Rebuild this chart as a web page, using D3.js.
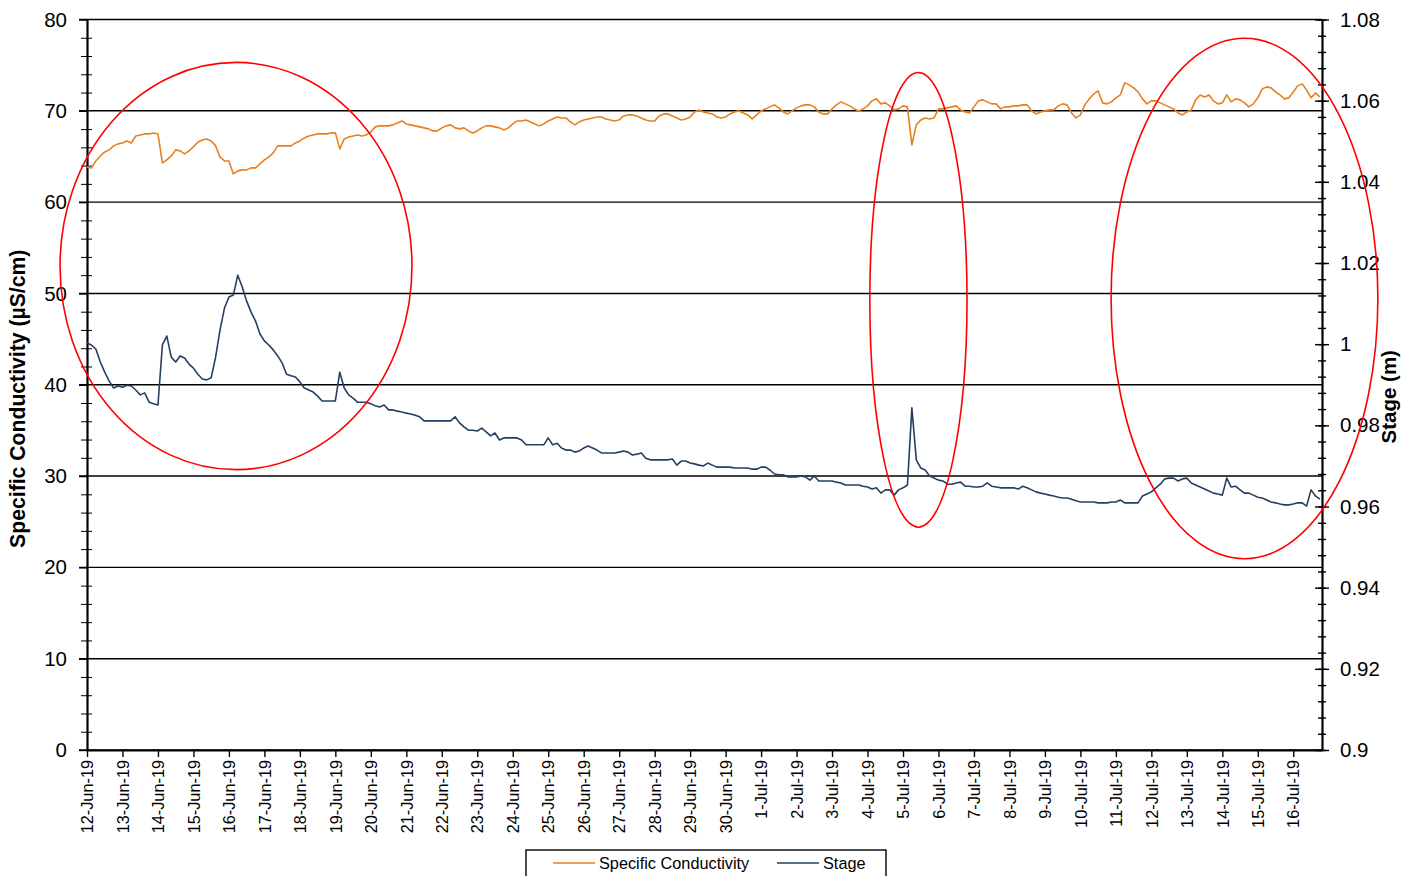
<!DOCTYPE html>
<html>
<head>
<meta charset="utf-8">
<script src="https://cdn.jsdelivr.net/npm/d3@7"></script>
<style>
  body { margin: 0; background: #fff; }
  svg { display: block; font-family: "Liberation Sans", Arial, sans-serif; }
</style>
</head>
<body>
<svg id="chart"></svg>
<script>
// logger readings, one every 3 hours from 12-Jun-19 00:00
const startTime = Date.UTC(2019, 5, 12);
const stepHours = 3;

// specific conductivity (uS/cm), one row per day
const conductivity = [
  63.86, 63.75, 64.51, 65.06, 65.50, 65.72, 66.16, 66.38,
  66.48, 66.70, 66.48, 67.25, 67.36, 67.47, 67.47, 67.58,
  67.47, 64.29, 64.62, 65.06, 65.72, 65.61, 65.28, 65.61,
  66.05, 66.59, 66.81, 66.92, 66.70, 66.16, 64.95, 64.51,
  64.51, 63.09, 63.42, 63.53, 63.53, 63.75, 63.75, 64.18,
  64.62, 64.95, 65.39, 66.16, 66.16, 66.16, 66.16, 66.48,
  66.70, 67.03, 67.25, 67.36, 67.47, 67.47, 67.47, 67.58,
  67.58, 65.83, 66.92, 67.14, 67.25, 67.36, 67.25, 67.36,
  67.69, 68.24, 68.35, 68.35, 68.35, 68.46, 68.67, 68.89,
  68.56, 68.46, 68.35, 68.24, 68.13, 68.02, 67.80, 67.80,
  68.13, 68.35, 68.46, 68.13, 68.02, 68.13, 67.80, 67.58,
  67.80, 68.13, 68.35, 68.35, 68.24, 68.13, 67.91, 68.13,
  68.56, 68.89, 68.89, 69.00, 68.78, 68.56, 68.35, 68.56,
  68.89, 69.11, 69.33, 69.22, 69.22, 68.78, 68.46, 68.78,
  69.00, 69.11, 69.22, 69.33, 69.33, 69.11, 69.00, 68.89,
  69.00, 69.44, 69.55, 69.55, 69.44, 69.22, 69.00, 68.89,
  68.89, 69.44, 69.66, 69.66, 69.44, 69.22, 69.00, 69.11,
  69.33, 69.88, 70.10, 69.88, 69.77, 69.66, 69.33, 69.22,
  69.33, 69.66, 69.88, 69.99, 69.77, 69.55, 69.11, 69.55,
  69.99, 70.21, 70.43, 70.65, 70.32, 69.88, 69.66, 69.99,
  70.32, 70.54, 70.65, 70.65, 70.43, 69.88, 69.66, 69.66,
  70.21, 70.65, 70.98, 70.76, 70.54, 70.21, 69.99, 70.21,
  70.54, 71.09, 71.31, 70.76, 70.87, 70.54, 70.10, 70.21,
  70.54, 70.43, 66.27, 68.46, 69.00, 69.22, 69.11, 69.22,
  70.21, 70.21, 70.32, 70.43, 70.54, 70.10, 69.88, 69.77,
  70.43, 71.09, 71.20, 70.98, 70.76, 70.76, 70.21, 70.43,
  70.43, 70.54, 70.54, 70.65, 70.65, 69.99, 69.66, 69.88,
  69.99, 70.10, 70.10, 70.54, 70.76, 70.65, 69.77, 69.22,
  69.55, 70.65, 71.31, 71.85, 72.18, 70.87, 70.76, 70.98,
  71.42, 71.74, 73.06, 72.84, 72.51, 72.07, 71.31, 70.76,
  71.09, 71.09, 70.87, 70.65, 70.43, 70.21, 69.77, 69.55,
  69.88, 70.10, 71.20, 71.74, 71.52, 71.74, 71.09, 70.76,
  70.87, 71.74, 70.98, 71.31, 71.20, 70.87, 70.43, 70.76,
  71.42, 72.40, 72.62, 72.51, 72.07, 71.74, 71.31, 71.42,
  72.07, 72.73, 72.95, 72.29, 71.42, 71.96, 71.52
];

// stage (m), same timestamps
const stage = [
  1.0003, 0.9998, 0.9988, 0.9956, 0.9931, 0.9909, 0.9892, 0.9897,
  0.9894, 0.9899, 0.9897, 0.9887, 0.9875, 0.9880, 0.9857, 0.9853,
  0.9850, 0.9998, 1.0020, 0.9968, 0.9956, 0.9971, 0.9966, 0.9951,
  0.9941, 0.9926, 0.9914, 0.9912, 0.9917, 0.9968, 1.0035, 1.0089,
  1.0116, 1.0121, 1.0170, 1.0141, 1.0106, 1.0079, 1.0057, 1.0025,
  1.0008, 0.9998, 0.9986, 0.9971, 0.9954, 0.9926, 0.9922, 0.9919,
  0.9907, 0.9892, 0.9887, 0.9882, 0.9872, 0.9860, 0.9860, 0.9860,
  0.9860, 0.9931, 0.9892, 0.9875, 0.9867, 0.9857, 0.9857, 0.9857,
  0.9853, 0.9848, 0.9845, 0.9850, 0.9838, 0.9838, 0.9835, 0.9833,
  0.9830, 0.9828, 0.9825, 0.9821, 0.9811, 0.9811, 0.9811, 0.9811,
  0.9811, 0.9811, 0.9811, 0.9821, 0.9806, 0.9796, 0.9788, 0.9788,
  0.9786, 0.9793, 0.9784, 0.9774, 0.9781, 0.9764, 0.9769, 0.9769,
  0.9769, 0.9769, 0.9764, 0.9752, 0.9752, 0.9752, 0.9752, 0.9752,
  0.9769, 0.9752, 0.9756, 0.9744, 0.9739, 0.9739, 0.9734, 0.9737,
  0.9744, 0.9749, 0.9744, 0.9739, 0.9732, 0.9732, 0.9732, 0.9732,
  0.9734, 0.9737, 0.9734, 0.9727, 0.9729, 0.9732, 0.9719, 0.9715,
  0.9715, 0.9715, 0.9715, 0.9715, 0.9717, 0.9702, 0.9712, 0.9712,
  0.9707, 0.9705, 0.9702, 0.9700, 0.9707, 0.9702, 0.9697, 0.9697,
  0.9697, 0.9697, 0.9695, 0.9695, 0.9695, 0.9695, 0.9692, 0.9692,
  0.9697, 0.9697, 0.9690, 0.9680, 0.9678, 0.9678, 0.9673, 0.9673,
  0.9673, 0.9675, 0.9673, 0.9665, 0.9675, 0.9663, 0.9663, 0.9663,
  0.9663, 0.9660, 0.9658, 0.9653, 0.9653, 0.9653, 0.9653, 0.9650,
  0.9648, 0.9643, 0.9646, 0.9633, 0.9641, 0.9641, 0.9628, 0.9641,
  0.9646, 0.9653, 0.9843, 0.9715, 0.9695, 0.9690, 0.9675, 0.9670,
  0.9665, 0.9663, 0.9655, 0.9655, 0.9658, 0.9660, 0.9650, 0.9650,
  0.9648, 0.9648, 0.9650, 0.9658, 0.9650, 0.9648, 0.9646, 0.9646,
  0.9646, 0.9646, 0.9643, 0.9650, 0.9646, 0.9641, 0.9636, 0.9633,
  0.9631, 0.9628, 0.9626, 0.9623, 0.9621, 0.9621, 0.9618, 0.9614,
  0.9611, 0.9611, 0.9611, 0.9611, 0.9609, 0.9609, 0.9609, 0.9611,
  0.9611, 0.9616, 0.9609, 0.9609, 0.9609, 0.9609, 0.9626, 0.9631,
  0.9636, 0.9646, 0.9655, 0.9668, 0.9670, 0.9670, 0.9663, 0.9668,
  0.9670, 0.9658, 0.9653, 0.9648, 0.9643, 0.9638, 0.9633, 0.9631,
  0.9628, 0.9670, 0.9648, 0.9650, 0.9641, 0.9633, 0.9633, 0.9628,
  0.9623, 0.9621, 0.9616, 0.9611, 0.9609, 0.9606, 0.9604, 0.9604,
  0.9606, 0.9609, 0.9609, 0.9601, 0.9641, 0.9626, 0.9618
];

// axis ticks
const condTicks = [0, 10, 20, 30, 40, 50, 60, 70, 80];
const stageTicks = [0.9, 0.92, 0.94, 0.96, 0.98, 1, 1.02, 1.04, 1.06, 1.08];

// hand drawn red rings: centre (time, uS/cm) and half widths (days, uS/cm)
const ringCentreTime = [Date.UTC(2019, 5, 16, 4, 48), Date.UTC(2019, 6, 5, 10, 26), Date.UTC(2019, 6, 14, 15, 0)];
const ringCentreValue = [53.0, 49.3, 49.45];
const ringHalfDays = [4.96, 1.37, 3.76];
const ringHalfValue = [22.3, 24.9, 28.5];

const seriesNames = ["Specific Conductivity", "Stage"];
const seriesColors = ["#E8801E", "#243F63"];

const width = 1411, height = 876;
const margin = { top: 19.5, right: 89, bottom: 126, left: 87 };
const dayMs = 864e5;

const svg = d3.select("#chart").attr("width", width).attr("height", height);
svg.append("rect").attr("width", width).attr("height", height).attr("fill", "#fff");

const x = d3.scaleUtc()
    .domain([startTime, startTime + 34.81 * dayMs])
    .range([margin.left, width - margin.right]);
const yLeft = d3.scaleLinear().domain([0, 80]).range([height - margin.bottom, margin.top]);
const yRight = d3.scaleLinear().domain([0.9, 1.08]).range([height - margin.bottom, margin.top]);

const x0 = x.range()[0], x1 = x.range()[1];
const timeAt = i => new Date(startTime + i * stepHours * 3600e3);

// horizontal gridlines on the conductivity scale
svg.append("g").selectAll("line")
    .data(condTicks)
    .enter().append("line")
    .attr("x1", x0 - 8).attr("x2", x1)
    .attr("y1", d => yLeft(d)).attr("y2", d => yLeft(d))
    .attr("stroke", "#000").attr("stroke-width", 1.4);

// left axis
const minorLeft = d3.range(0, 81, 2).filter(v => v % 10 !== 0);
svg.append("g").attr("transform", `translate(${x0},0)`)
    .call(d3.axisLeft(yLeft).tickValues(minorLeft).tickSize(6).tickSizeOuter(0).tickFormat(""))
    .call(g => g.select(".domain").remove());
svg.append("g").attr("transform", `translate(${x0},0)`)
    .call(d3.axisRight(yLeft).tickValues(minorLeft).tickSize(5).tickSizeOuter(0).tickFormat(""))
    .call(g => g.select(".domain").remove());
svg.append("g").attr("transform", `translate(${x0},0)`)
    .call(d3.axisLeft(yLeft).tickValues(condTicks).tickSize(8).tickSizeOuter(0).tickPadding(12))
    .call(g => g.select(".domain").attr("stroke-width", 2.2))
    .call(g => g.selectAll(".tick line").attr("stroke-width", 1.4))
    .call(g => g.selectAll("text").attr("font-size", 20.5).attr("font-family", "Liberation Sans, Arial, sans-serif").attr("fill", "#000"));

// right axis
const minorRight = d3.range(0, 46).map(i => 0.9 + i * 0.004);
[d3.axisRight, d3.axisLeft].forEach(ax => {
    svg.append("g").attr("transform", `translate(${x1},0)`)
        .call(ax(yRight).tickValues(minorRight).tickSize(4).tickSizeOuter(0).tickFormat(""))
        .call(g => g.select(".domain").remove())
        .call(g => g.selectAll(".tick line").attr("stroke-width", 1.4));
});
svg.append("g").attr("transform", `translate(${x1},0)`)
    .call(d3.axisLeft(yRight).tickValues(stageTicks).tickSize(7).tickSizeOuter(0).tickFormat(""))
    .call(g => g.select(".domain").remove())
    .call(g => g.selectAll(".tick line").attr("stroke-width", 1.4));
svg.append("g").attr("transform", `translate(${x1},0)`)
    .call(d3.axisRight(yRight).tickValues(stageTicks).tickSize(7).tickSizeOuter(0).tickPadding(11).tickFormat(d => String(d)))
    .call(g => g.select(".domain").attr("stroke-width", 2.2))
    .call(g => g.selectAll(".tick line").attr("stroke-width", 1.4))
    .call(g => g.selectAll("text").attr("font-size", 20.5).attr("font-family", "Liberation Sans, Arial, sans-serif").attr("fill", "#000"));

// bottom axis with one tick per day
svg.append("g").attr("transform", `translate(0,${yLeft(0)})`)
    .call(d3.axisBottom(x).ticks(d3.utcDay.every(1)).tickFormat(d3.utcFormat("%-d-%b-%y")).tickSize(7).tickSizeOuter(0))
    .call(g => g.select(".domain").attr("stroke-width", 2.2))
    .call(g => g.selectAll(".tick line").attr("stroke-width", 1.4))
    .call(g => g.selectAll("text")
        .attr("transform", "rotate(-90)")
        .attr("text-anchor", "end")
        .attr("x", -10).attr("y", 0).attr("dy", "0.35em")
        .attr("font-size", 16.3)
        .attr("font-family", "Liberation Sans, Arial, sans-serif")
        .attr("fill", "#000"));

// data lines
const condLine = d3.line().x((d, i) => x(timeAt(i))).y(d => yLeft(d));
const stageLine = d3.line().x((d, i) => x(timeAt(i))).y(d => yRight(d));

svg.append("path").datum(conductivity)
    .attr("d", condLine)
    .attr("fill", "none").attr("stroke", seriesColors[0]).attr("stroke-width", 1.6)
    .attr("stroke-linejoin", "round");
svg.append("path").datum(stage)
    .attr("d", stageLine)
    .attr("fill", "none").attr("stroke", seriesColors[1]).attr("stroke-width", 1.6)
    .attr("stroke-linejoin", "round");

// red rings
svg.append("g").selectAll("ellipse")
    .data(ringCentreTime)
    .enter().append("ellipse")
    .attr("cx", d => x(d))
    .attr("cy", (d, i) => yLeft(ringCentreValue[i]))
    .attr("rx", (d, i) => x(d + ringHalfDays[i] * dayMs) - x(d))
    .attr("ry", (d, i) => yLeft(ringCentreValue[i] - ringHalfValue[i]) - yLeft(ringCentreValue[i]))
    .attr("fill", "none").attr("stroke", "#FF0000").attr("stroke-width", 1.6);

// axis titles
svg.append("text")
    .attr("transform", `translate(25,${(yLeft(0) + yLeft(80)) / 2 + 14}) rotate(-90)`)
    .attr("text-anchor", "middle")
    .attr("font-size", 21.2).attr("font-weight", "bold")
    .text("Specific Conductivity  (µS/cm)");
svg.append("text")
    .attr("transform", `translate(1396,${(yLeft(0) + yLeft(80)) / 2 + 12}) rotate(-90)`)
    .attr("text-anchor", "middle")
    .attr("font-size", 20.5).attr("font-weight", "bold")
    .text("Stage (m)");

// legend
const legend = svg.append("g");
legend.append("rect")
    .attr("x", 526).attr("y", 850).attr("width", 360).attr("height", 34)
    .attr("fill", "#fff").attr("stroke", "#000").attr("stroke-width", 1.4);
const legendX = [553, 777];
seriesNames.forEach((name, i) => {
    legend.append("line")
        .attr("x1", legendX[i]).attr("x2", legendX[i] + 42)
        .attr("y1", 863).attr("y2", 863)
        .attr("stroke", seriesColors[i]).attr("stroke-width", 1.6);
    legend.append("text")
        .attr("x", legendX[i] + 46).attr("y", 868.5)
        .attr("font-size", 16.3)
        .text(name);
});
</script>
</body>
</html>
